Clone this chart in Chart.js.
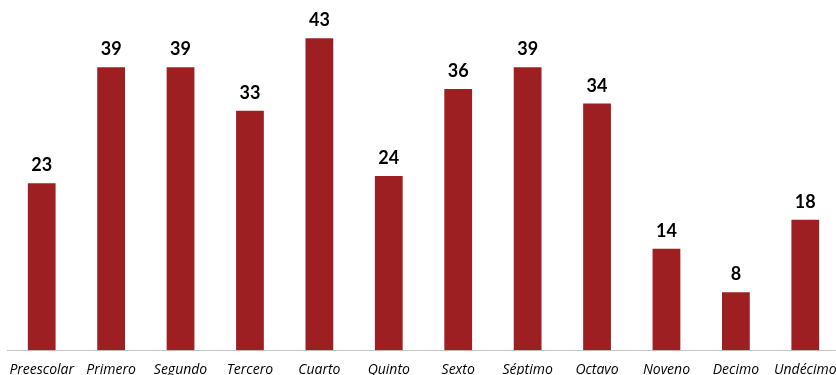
<!DOCTYPE html>
<html>
<head>
<meta charset="utf-8">
<script src="https://cdn.jsdelivr.net/npm/chart.js@4/dist/chart.umd.min.js"></script>
<style>
  html, body { margin: 0; padding: 0; background: #fff; overflow: hidden; }
  #wrap { width: 840px; height: 381px; position: relative; }
</style>
</head>
<body>
<div id="wrap"><canvas id="chart"></canvas></div>
<script>
"use strict";
const grades = ["Preescolar", "Primero", "Segundo", "Tercero", "Cuarto", "Quinto",
  "Sexto", "Séptimo", "Octavo", "Noveno", "Decimo", "Undécimo"];
const counts = [23, 39, 39, 33, 43, 24, 36, 39, 34, 14, 8, 18];

// draws the value above each bar
const valueLabels = {
  id: "valueLabels",
  afterDatasetsDraw(chart) {
    const ctx = chart.ctx;
    const meta = chart.getDatasetMeta(0);
    ctx.save();
    ctx.fillStyle = "#000";
    ctx.font = "bold 18px Lato, 'Open Sans', sans-serif";
    ctx.textAlign = "center";
    ctx.textBaseline = "alphabetic";
    meta.data.forEach((bar, i) => {
      ctx.fillText(String(counts[i]), bar.x, bar.y - 12);
    });
    ctx.restore();
  }
};

new Chart(document.getElementById("chart"), {
  type: "bar",
  data: {
    labels: grades,
    datasets: [{
      data: counts,
      backgroundColor: "#9e1f22",
      borderWidth: 0,
      barPercentage: 0.4,
      categoryPercentage: 1
    }]
  },
  options: {
    responsive: true,
    maintainAspectRatio: false,
    animation: false,
    layout: { padding: { left: 7, right: 0, top: 2, bottom: 0 } },
    plugins: { legend: { display: false }, tooltip: { enabled: false } },
    scales: {
      y: { display: false, min: 0, max: 48 },
      x: {
        grid: { display: false },
        border: { display: true, color: "#c4c4c4", width: 1 },
        ticks: {
          color: "#000",
          padding: 3,
          maxRotation: 0,
          autoSkip: false,
          font: { family: "'Open Sans', sans-serif", style: "italic", size: 14 }
        }
      }
    }
  },
  plugins: [valueLabels]
});
</script>
</body>
</html>
